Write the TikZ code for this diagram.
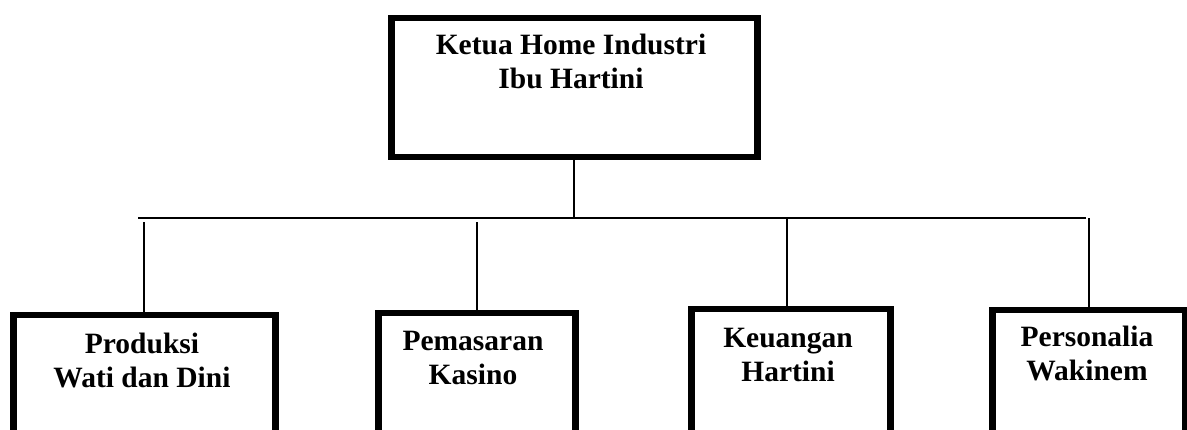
\documentclass[tikz,border=0pt]{standalone}
\usepackage{fontspec}
\setmainfont{Liberation Serif}
\begin{document}
\begin{tikzpicture}[x=1pt,y=-1pt,
  orgbox/.style={draw=black, line width=6.5pt, fill=white, inner sep=0pt, anchor=north west},
  orgtext/.style={align=center, inner sep=0pt, anchor=base, font=\bfseries\fontsize{29.5}{34.5}\selectfont},
  link/.style={draw=black, line width=1.6pt}]
\useasboundingbox (0,0) rectangle (1187,430);
\clip (0,0) rectangle (1187,430);
% boxes
\node[orgbox, minimum width=366pt, minimum height=139pt] (top) at (388,15) {};
\node[orgbox, minimum width=262pt, minimum height=160pt] (prod) at (10,312) {};
\node[orgbox, minimum width=197pt, minimum height=160pt] (pem) at (375,310) {};
\node[orgbox, minimum width=199pt, minimum height=160pt] (keu) at (688,306) {};
\node[orgbox, minimum width=193pt, minimum height=160pt] (per) at (989,307) {};
% texts (anchor = baseline of the last line)
\node[orgtext] (toptext) at (571,89) {Ketua Home Industri\\Ibu Hartini};
\node[orgtext] (prodtext) at (142,388) {Produksi\\Wati dan Dini};
\node[orgtext] (pemtext) at (473,385) {Pemasaran\\Kasino};
\node[orgtext] (keutext) at (788,382) {Keuangan\\Hartini};
\node[orgtext] (pertext) at (1087,381) {Personalia\\Wakinem};
% connectors
\coordinate (busL) at (138,218);
\coordinate (busR) at (1086,218);
\coordinate (gap) at (0,222);
\draw[link] (top.south) -- (top.south |- busL);
\draw[link] (busL) -- (busR);
\draw[link] (prod.north) -- (prod.north |- gap);
\draw[link] (pem.north) -- (pem.north |- gap);
\draw[link] ([xshift=-3.5pt]keu.north) -- ([xshift=-3.5pt]keu.north |- busL);
\draw[link] (per.north) -- (per.north |- busR);
\end{tikzpicture}
\end{document}
